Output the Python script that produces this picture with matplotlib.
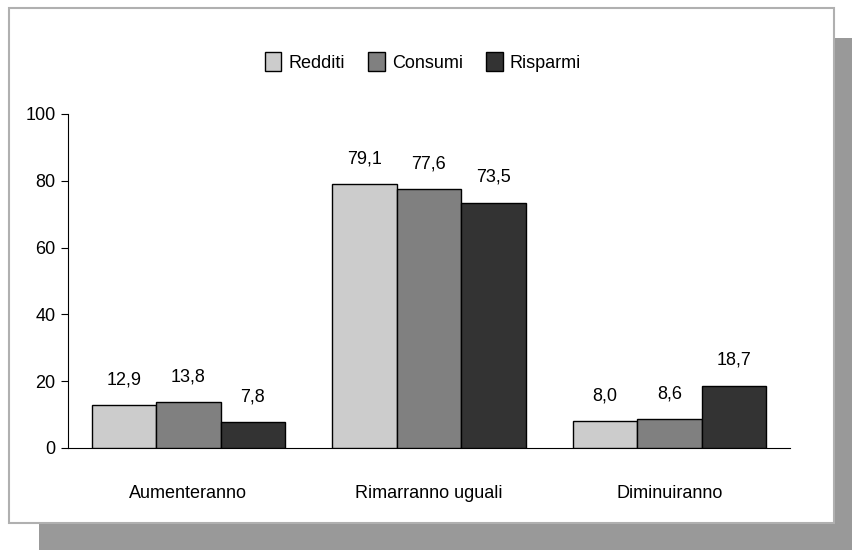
import matplotlib.pyplot as plt
from matplotlib.patches import Rectangle
import numpy as np

categories = ["Aumenteranno", "Rimarranno uguali", "Diminuiranno"]
series = ["Redditi", "Consumi", "Risparmi"]
redditi = [12.9, 79.1, 8.0]
consumi = [13.8, 77.6, 8.6]
risparmi = [7.8, 73.5, 18.7]
colors = ["#cccccc", "#808080", "#333333"]

plt.rcParams["font.family"] = ["Liberation Sans", "DejaVu Sans"]
plt.rcParams["font.size"] = 13

W, H = 852, 550
fig = plt.figure(figsize=(W / 100, H / 100), dpi=100)

# drop shadow and white framed panel
fig.patches.append(Rectangle((39 / W, 0), 1 - 39 / W, 1 - 38 / H,
                             transform=fig.transFigure, facecolor="#999999",
                             edgecolor="none", zorder=0))
fig.patches.append(Rectangle((9 / W, 1 - 523 / H), 825 / W, 515 / H,
                             transform=fig.transFigure, facecolor="white",
                             edgecolor="#b0b0b0", linewidth=1.5, zorder=1))

ax = fig.add_axes([68 / W, 1 - 448 / H, 722 / W, 334 / H])
ax.set_facecolor("none")
ax.set_zorder(2)

x = np.arange(len(categories))
w = 0.268
for i, (vals, name) in enumerate(zip([redditi, consumi, risparmi], series)):
    bars = ax.bar(x + (i - 1) * w, vals, w, color=colors[i], edgecolor="black",
                  linewidth=1, label=name, zorder=3)
    for b, v in zip(bars, vals):
        ax.annotate(f"{v:.1f}".replace(".", ","),
                    (b.get_x() + b.get_width() / 2, v),
                    xytext=(0, 12), textcoords="offset points",
                    ha="center", va="bottom")

ax.set_xlim(-0.5, 2.5)
ax.set_ylim(0, 100)
ax.set_yticks(range(0, 101, 20))
ax.set_xticks(x)
ax.set_xticklabels(categories)
ax.tick_params(axis="x", length=0, pad=27)
ax.tick_params(axis="y", length=5, direction="out", pad=4)
ax.spines["top"].set_visible(False)
ax.spines["right"].set_visible(False)

leg = fig.legend(loc="center", bbox_to_anchor=(423 / W, 1 - 62 / H), ncol=3,
                 frameon=False, handlelength=0.9, handleheight=1.2,
                 handletextpad=0.4, columnspacing=1.3)
leg.set_zorder(3)

fig.savefig("out.png", dpi=100)
